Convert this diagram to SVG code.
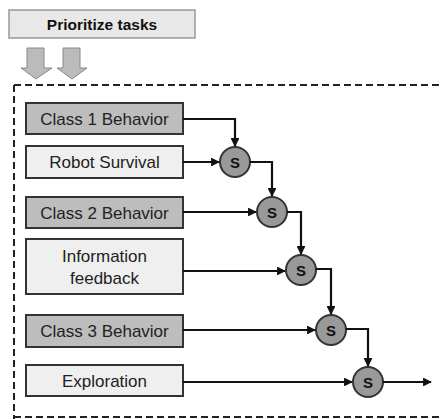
<svg xmlns="http://www.w3.org/2000/svg" width="440" height="419" viewBox="0 0 440 419">
<defs>
<marker id="ah" viewBox="0 0 10 10" refX="9" refY="5" markerWidth="4" markerHeight="4" orient="auto" markerUnits="strokeWidth">
<path d="M0,0 L10,5 L0,10 z" fill="#111"/>
</marker>
<style>
.box{stroke:#333;stroke-width:2}
.dark{fill:#bdbdbd}
.light{fill:#efefef}
.lbl{font-family:"Liberation Sans",Arial,sans-serif;font-size:17px;fill:#222;text-anchor:middle}
.sum{fill:#999;stroke:#333;stroke-width:2}
.s{font-family:"Liberation Sans",Arial,sans-serif;font-size:15px;font-weight:bold;fill:#111;text-anchor:middle}
.con{fill:none;stroke:#111;stroke-width:2.2;marker-end:url(#ah)}
.blk{fill:#bbb;stroke:#888;stroke-width:1}
</style>
</defs>
<rect width="440" height="419" fill="#fff"/>
<g id="prioritize">
<rect x="9" y="10" width="186" height="28" fill="#e8e8e8" stroke="#999" stroke-width="1.5"/>
<text x="102" y="29.5" font-family="'Liberation Sans',Arial,sans-serif" font-size="15.5" font-weight="bold" fill="#111" text-anchor="middle">Prioritize tasks</text>
</g>
<g id="block-arrows">
<path class="blk" d="M27,48 H44 V68 H52 L36,79 L21,68 H27 Z"/>
<path class="blk" d="M63,48 H80 V68 H87 L72,79 L57,68 H63 Z"/>
</g>
<path d="M14,85 H440 M14,85 V419 M14,417 H440" fill="none" stroke="#222" stroke-width="2" stroke-dasharray="7,4"/>
<g id="class1"><rect class="box dark" x="26" y="103" width="157" height="31"/><text class="lbl" x="104.5" y="124.5">Class 1 Behavior</text></g>
<g id="robot-survival"><rect class="box light" x="26" y="146" width="157" height="32"/><text class="lbl" x="104.5" y="168">Robot Survival</text></g>
<g id="class2"><rect class="box dark" x="26" y="197" width="157" height="31"/><text class="lbl" x="104.5" y="218.5">Class 2 Behavior</text></g>
<g id="info-feedback"><rect class="box light" x="26" y="239" width="157" height="55"/><text class="lbl" x="104.5" y="262">Information</text><text class="lbl" x="104.5" y="284">feedback</text></g>
<g id="class3"><rect class="box dark" x="26" y="315" width="157" height="32"/><text class="lbl" x="104.5" y="337">Class 3 Behavior</text></g>
<g id="exploration"><rect class="box light" x="26" y="365" width="157" height="31"/><text class="lbl" x="104.5" y="387">Exploration</text></g>
<g id="s1"><circle class="sum" cx="235" cy="162" r="15"/><text class="s" x="235" y="167.5">S</text></g>
<g id="s2"><circle class="sum" cx="272" cy="212" r="15"/><text class="s" x="272" y="217.5">S</text></g>
<g id="s3"><circle class="sum" cx="301" cy="270" r="15"/><text class="s" x="301" y="275.5">S</text></g>
<g id="s4"><circle class="sum" cx="331" cy="330" r="15"/><text class="s" x="331" y="335.5">S</text></g>
<g id="s5"><circle class="sum" cx="368" cy="382" r="15"/><text class="s" x="368" y="387.5">S</text></g>
<g id="connectors">
<path class="con" d="M183,119 H235 V146"/>
<path class="con" d="M183,162 H219"/>
<path class="con" d="M250,162 H272 V196"/>
<path class="con" d="M183,212 H256"/>
<path class="con" d="M287,212 H301 V254"/>
<path class="con" d="M183,271 H285"/>
<path class="con" d="M316,269 H331 V314"/>
<path class="con" d="M183,330 H315"/>
<path class="con" d="M346,329 H368 V366"/>
<path class="con" d="M183,382 H352"/>
<path class="con" d="M383,382 H431"/>
</g>
</svg>
